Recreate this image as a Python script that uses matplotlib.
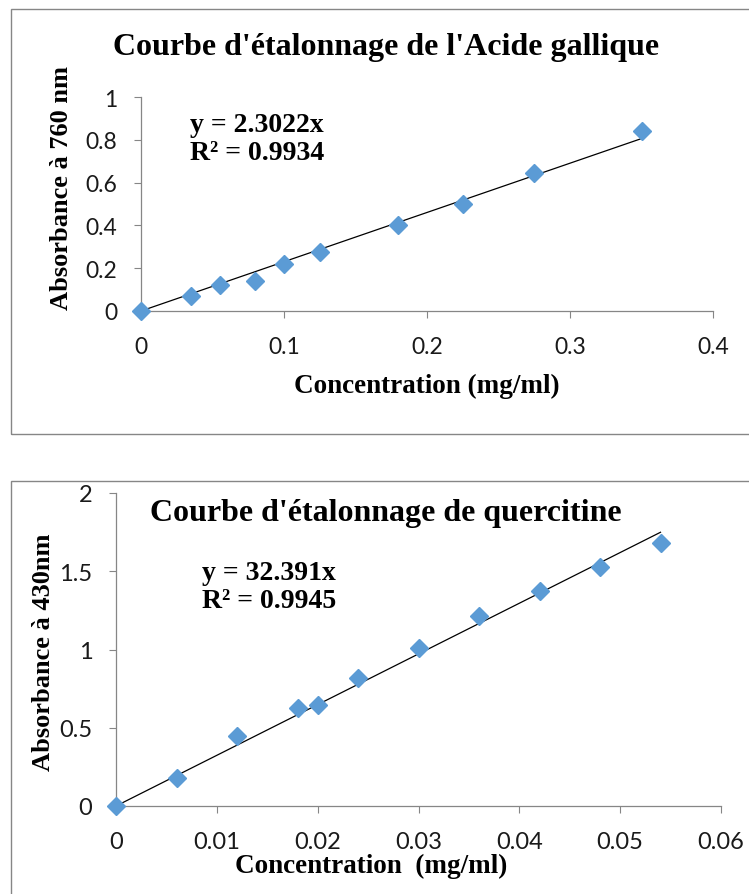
import matplotlib.pyplot as plt
from matplotlib.patches import Rectangle

# gallic acid calibration
ga_conc = [0, 0.035, 0.055, 0.08, 0.1, 0.125, 0.18, 0.225, 0.275, 0.35]
ga_abs = [0, 0.07, 0.12, 0.14, 0.22, 0.275, 0.40, 0.50, 0.645, 0.84]
ga_slope = 2.3022
ga_r2 = 0.9934

# quercetin calibration
qu_conc = [0, 0.006, 0.012, 0.018, 0.02, 0.024, 0.03, 0.036, 0.042, 0.048, 0.054]
qu_abs = [0, 0.18, 0.445, 0.625, 0.645, 0.815, 1.01, 1.215, 1.375, 1.525, 1.68]
qu_slope = 32.391
qu_r2 = 0.9945

ga_xticks = [0, 0.1, 0.2, 0.3, 0.4]
ga_yticks = [0, 0.2, 0.4, 0.6, 0.8, 1]
qu_xticks = [0, 0.01, 0.02, 0.03, 0.04, 0.05, 0.06]
qu_yticks = [0, 0.5, 1, 1.5, 2]

serif = ["Liberation Serif", "DejaVu Serif"]
tickfont = ["Lato", "DejaVu Sans"]
blue = "#5B9BD5"
gray = "#868686"

W, H = 749, 895
fig = plt.figure(figsize=(W / 100, H / 100), dpi=100)


def fx(px):
    return px / W


def fy(py):
    return 1 - py / H


# chart frames
fig.patches.append(Rectangle((fx(11), fy(435)), 0.99, 425 / H,
                             transform=fig.transFigure, fill=False,
                             edgecolor=gray, linewidth=1.0))
fig.patches.append(Rectangle((fx(11), -0.01), 0.99, fy(482) + 0.01,
                             transform=fig.transFigure, fill=False,
                             edgecolor=gray, linewidth=1.0))


def style_axes(ax, xticks, yticks, size):
    for s in ["top", "right"]:
        ax.spines[s].set_visible(False)
    for s in ["left", "bottom"]:
        ax.spines[s].set_color(gray)
        ax.spines[s].set_linewidth(0.9)
    ax.set_xticks(xticks)
    ax.set_yticks(yticks)
    ax.set_xticklabels([f"{t:g}" for t in xticks])
    ax.set_yticklabels([f"{t:g}" for t in yticks])
    ax.set_xlim(xticks[0], xticks[-1])
    ax.set_ylim(yticks[0], yticks[-1])
    ax.tick_params(axis="both", direction="out", length=5, color=gray,
                   labelsize=size, colors="#1a1a1a")
    ax.tick_params(axis="x", pad=13)
    ax.tick_params(axis="y", pad=12)
    for lab in ax.get_xticklabels() + ax.get_yticklabels():
        lab.set_family(tickfont)
    ax.patch.set_alpha(0)


bold = dict(family=serif, fontweight="bold")

# top chart
ax1 = fig.add_axes([fx(141), fy(312), 572 / W, 214 / H])
ax1.plot([0, max(ga_conc)], [0, ga_slope * max(ga_conc)], color="black",
         linewidth=0.9, zorder=2)
ax1.plot(ga_conc, ga_abs, linestyle="none", marker="D", markersize=9.5,
         color=blue, clip_on=False, zorder=3)
style_axes(ax1, ga_xticks, ga_yticks, 16.5)
fig.text(fx(427), fy(386), "Concentration (mg/ml)", ha="center", va="center",
         fontsize=19.5, **bold)
fig.text(fx(62), fy(188), "Absorbance à 760 nm", ha="center", va="center",
         rotation=90, fontsize=19, **bold)
fig.text(fx(386), fy(47), "Courbe d'étalonnage de l'Acide gallique",
         ha="center", va="center", fontsize=23, **bold)
fig.text(fx(190), fy(125), f"y = {ga_slope}x", ha="left", va="center",
         fontsize=20, **bold)
fig.text(fx(190), fy(153), f"R² = {ga_r2}", ha="left", va="center",
         fontsize=20, **bold)

# bottom chart
ax2 = fig.add_axes([fx(116), fy(807), 605 / W, 313 / H])
ax2.plot([0, max(qu_conc)], [0, qu_slope * max(qu_conc)], color="black",
         linewidth=0.9, zorder=2)
ax2.plot(qu_conc, qu_abs, linestyle="none", marker="D", markersize=9.5,
         color=blue, clip_on=False, zorder=3)
style_axes(ax2, qu_xticks, qu_yticks, 17)
fig.text(fx(371), fy(866), "Concentration  (mg/ml)", ha="center", va="center",
         fontsize=19.5, **bold)
fig.text(fx(44), fy(652), "Absorbance à 430nm", ha="center", va="center",
         rotation=90, fontsize=19, **bold)
fig.text(fx(386), fy(513), "Courbe d'étalonnage de quercitine",
         ha="center", va="center", fontsize=23, **bold)
fig.text(fx(202), fy(574), f"y = {qu_slope}x", ha="left", va="center",
         fontsize=20, **bold)
fig.text(fx(202), fy(602), f"R² = {qu_r2}", ha="left", va="center",
         fontsize=20, **bold)

fig.savefig("out.png", dpi=100)
plt.close(fig)
